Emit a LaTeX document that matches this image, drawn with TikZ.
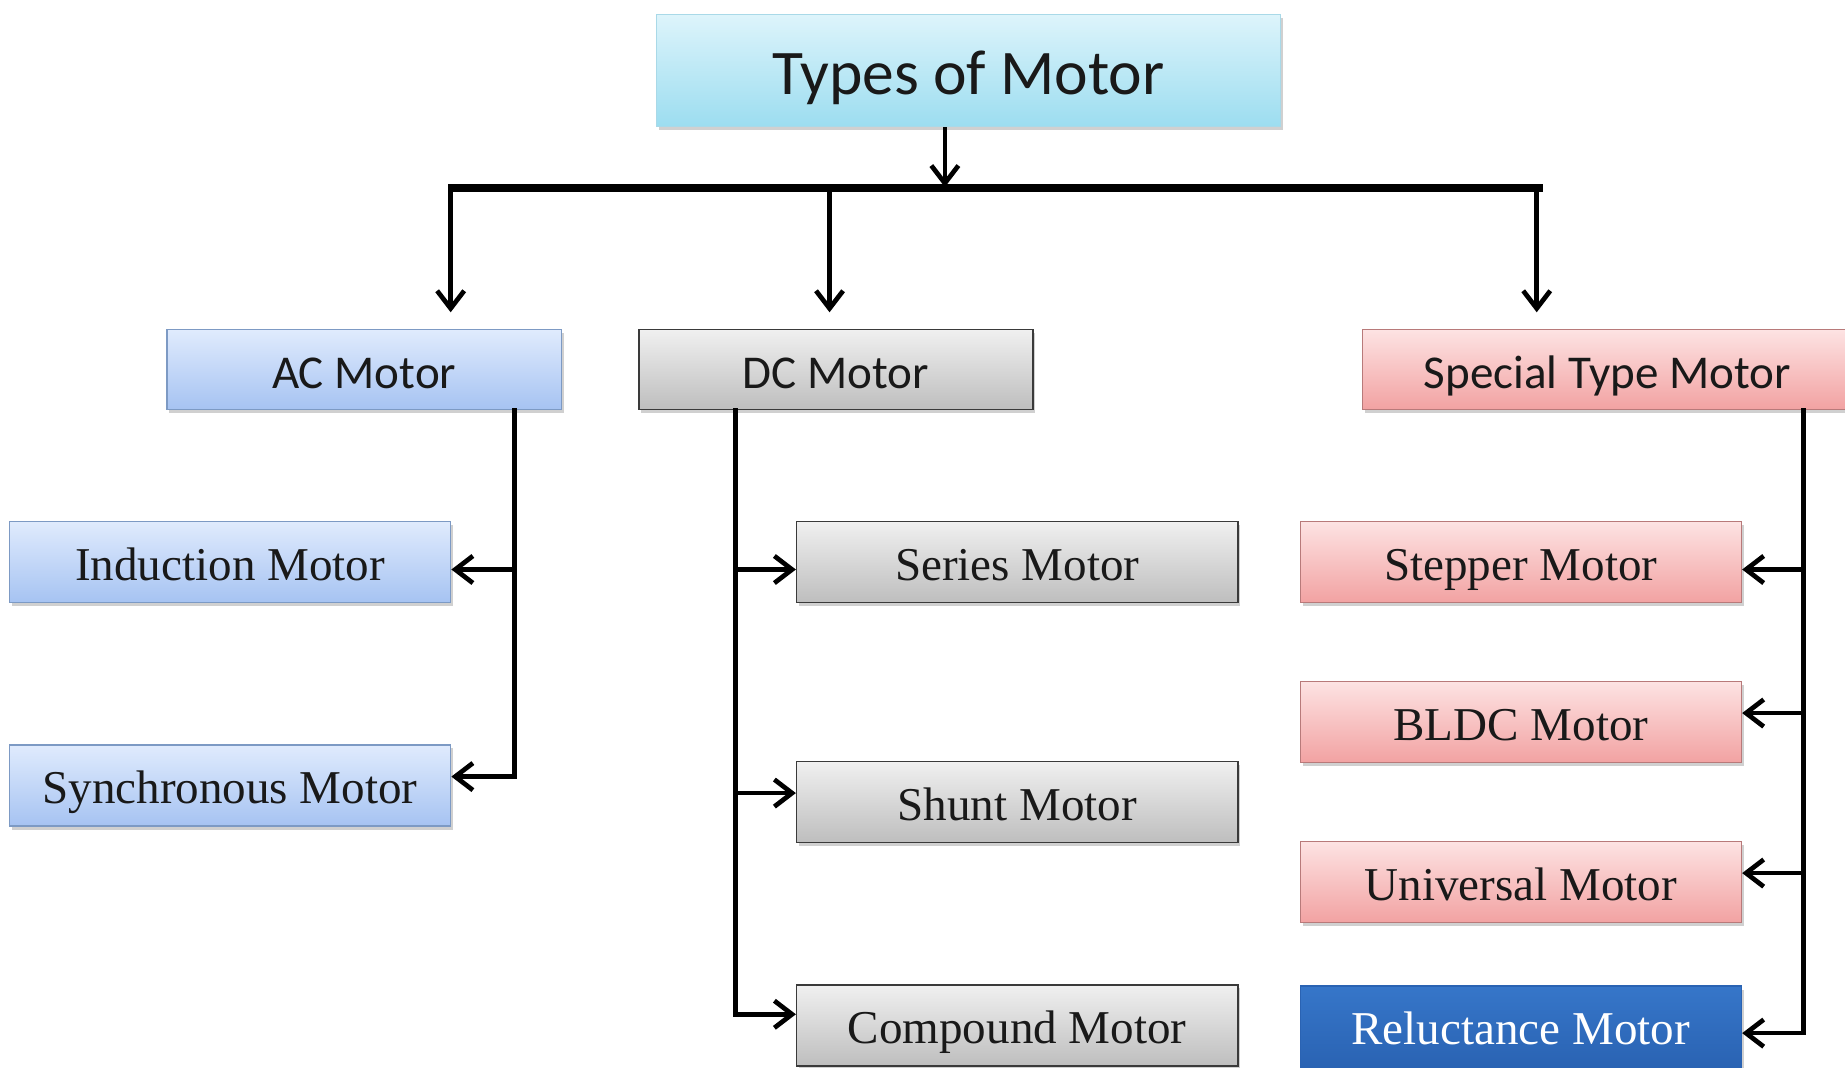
\documentclass[tikz,border=0pt]{standalone}
\usepackage{fontspec}
\newfontfamily\calfont{Carlito}
\newfontfamily\tmsfont{Liberation Serif}
\usetikzlibrary{arrows.meta,shadows,calc}
\definecolor{acTop}{HTML}{E0EBFD}
\definecolor{acBot}{HTML}{A6C3F2}
\definecolor{acDraw}{HTML}{7D9AC4}
\definecolor{dcTop}{HTML}{F0F0F0}
\definecolor{dcBot}{HTML}{BEBEBE}
\definecolor{dcDraw}{HTML}{3A3A3A}
\definecolor{spTop}{HTML}{FDE3E3}
\definecolor{spBot}{HTML}{F2A2A2}
\definecolor{spDraw}{HTML}{B87A7A}
\definecolor{relTop}{HTML}{3676C9}
\definecolor{relBot}{HTML}{2A63B3}
\definecolor{tiTop}{HTML}{DDF4FB}
\definecolor{tiBot}{HTML}{9CDDF0}
\definecolor{tiDraw}{HTML}{A9D9E8}
\begin{document}
\begin{tikzpicture}[x=1pt,y=-1pt,
  bx/.style={rectangle, inner sep=0pt, line width=1.2pt,
    minimum width=375pt, minimum height=69pt,
    drop shadow={shadow xshift=2pt, shadow yshift=-3pt, opacity=0.3, fill=black!60}},
  cal/.style={font=\fontsize{40}{48}\selectfont\calfont, text=black!90, text height=32pt, text depth=0pt},
  tms/.style={font=\fontsize{40}{48}\selectfont\tmsfont, text=black!90, text height=31pt, text depth=0pt},
  acb/.style={bx, top color=acTop, bottom color=acBot, draw=acDraw},
  dcb/.style={bx, top color=dcTop, bottom color=dcBot, draw=dcDraw},
  spb/.style={bx, top color=spTop, bottom color=spBot, draw=spDraw},
  arr/.style={line width=4pt, -{Straight Barb[length=15pt,width=23pt,line width=4pt]}},
  ln/.style={line width=4pt, line cap=rect}
]
\useasboundingbox (0,0) rectangle (1568,907);
\fill[white] (0,0) rectangle (1568,907);
\clip (0,0) rectangle (1568,907);

% title
\node[bx, minimum width=530pt, minimum height=95pt, top color=tiTop, bottom color=tiBot, draw=tiDraw,
      font=\fontsize{54}{60}\selectfont\calfont, text=black!90, text height=40pt, text depth=0pt] (title) at (823,60) {Types of Motor};

% level 1
\node[acb, cal, minimum width=335pt, minimum height=68pt] (ac) at (309.5,314) {AC Motor};
\node[dcb, cal, minimum width=335pt, minimum height=68pt] (dc) at (710.5,314) {DC Motor};
\node[spb, cal, minimum width=416pt, minimum height=68pt] (sp) at (1366,314) {Special Type Motor};

% level 2
\node[acb, tms] (ind) at (195.5,477.5) {Induction Motor};
\node[acb, tms] (syn) at (195.5,667.5) {Synchronous Motor};
\node[dcb, tms] (ser) at (864.5,477.5) {Series Motor};
\node[dcb, tms] (shu) at (864.5,681.5) {Shunt Motor};
\node[dcb, tms] (com) at (864.5,871.5) {Compound Motor};
\node[spb, tms] (ste) at (1292.5,477.5) {Stepper Motor};
\node[spb, tms] (bld) at (1292.5,613.5) {BLDC Motor};
\node[spb, tms] (uni) at (1292.5,749.5) {Universal Motor};
\node[bx, tms, top color=relTop, bottom color=relBot, draw=relBot, text=white] (rel) at (1292.5,872.5) {Reluctance Motor};

% bus
\coordinate (busL) at (381,160);
\coordinate (busR) at (1311,160);
\coordinate (busT) at (803,160);
\draw[line width=7pt] (busL) -- (busR);
\draw[arr, shorten >=1pt] (busT |- title.south) -- (busT);
\coordinate (dA) at (383,160);
\coordinate (dD) at (705,160);
\coordinate (dS) at (1306,160);
\draw[arr, shorten >=14pt] (dA) -- (dA |- ac.north);
\draw[arr, shorten >=14pt] (dD) -- (dD |- dc.north);
\draw[arr, shorten >=14pt] (dS) -- (dS |- sp.north);

% AC branch
\coordinate (a1) at (437,484);
\coordinate (a2) at (437,660);
\draw[ln] (a1 |- ac.south) -- (a2);
\draw[arr] (a1) -- (a1 -| ind.east);
\draw[arr] (a2) -- (a2 -| syn.east);

% DC branch
\coordinate (d1) at (625,484);
\coordinate (d2) at (625,674);
\coordinate (d3) at (625,862);
\draw[ln] (d1 |- dc.south) -- (d3);
\draw[arr] (d1) -- (d1 -| ser.west);
\draw[arr] (d2) -- (d2 -| shu.west);
\draw[arr] (d3) -- (d3 -| com.west);

% Special branch
\coordinate (s1) at (1533,484);
\coordinate (s2) at (1533,606);
\coordinate (s3) at (1533,742);
\coordinate (s4) at (1533,878);
\draw[ln] (s1 |- sp.south) -- (s4);
\draw[arr] (s1) -- (s1 -| ste.east);
\draw[arr] (s2) -- (s2 -| bld.east);
\draw[arr] (s3) -- (s3 -| uni.east);
\draw[arr] (s4) -- (s4 -| rel.east);
\end{tikzpicture}
\end{document}
